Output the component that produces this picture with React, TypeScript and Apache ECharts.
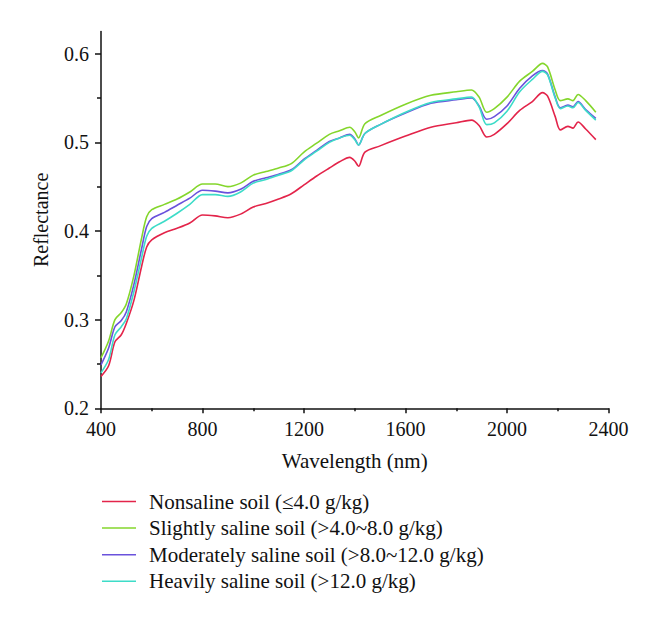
import React, { useEffect, useRef } from "react";
import * as echarts from "echarts";

const wavelengths = [400, 430, 455, 480, 500, 530, 560, 580, 600, 650, 700, 750, 800, 850, 900, 950, 1000, 1050, 1100, 1150, 1200, 1250, 1300, 1340, 1380, 1400, 1415, 1440, 1500, 1600, 1700, 1800, 1860, 1890, 1920, 1950, 2000, 2050, 2100, 2140, 2160, 2190, 2210, 2240, 2260, 2280, 2310, 2350];

const nonsaline = [0.236, 0.248, 0.275, 0.283, 0.296, 0.322, 0.36, 0.382, 0.39, 0.398, 0.403, 0.409, 0.418, 0.417, 0.415, 0.419, 0.427, 0.431, 0.436, 0.442, 0.452, 0.462, 0.471, 0.478, 0.483, 0.479, 0.473, 0.489, 0.496, 0.507, 0.517, 0.522, 0.525, 0.519, 0.506, 0.509, 0.521, 0.536, 0.546, 0.556, 0.552, 0.529, 0.514, 0.518, 0.516, 0.523, 0.515, 0.503];

const slightly = [0.257, 0.276, 0.3, 0.308, 0.318, 0.35, 0.392, 0.416, 0.424, 0.43, 0.436, 0.444, 0.453, 0.453, 0.45, 0.454, 0.463, 0.467, 0.471, 0.476, 0.489, 0.499, 0.509, 0.513, 0.517, 0.512, 0.505, 0.521, 0.53, 0.543, 0.553, 0.557, 0.559, 0.551, 0.534, 0.538, 0.551, 0.569, 0.58, 0.589, 0.585, 0.559, 0.547, 0.549, 0.547, 0.554, 0.547, 0.534];

const moderately = [0.249, 0.268, 0.292, 0.299, 0.309, 0.34, 0.38, 0.405, 0.414, 0.421, 0.429, 0.437, 0.446, 0.445, 0.443, 0.447, 0.456, 0.46, 0.464, 0.469, 0.481, 0.491, 0.501, 0.505, 0.509, 0.504, 0.497, 0.51, 0.52, 0.533, 0.544, 0.548, 0.55, 0.541, 0.526, 0.529, 0.541, 0.561, 0.575, 0.581, 0.577, 0.551, 0.539, 0.542, 0.54, 0.546, 0.537, 0.527];

const heavily = [0.24, 0.255, 0.283, 0.292, 0.301, 0.332, 0.37, 0.394, 0.403, 0.411, 0.42, 0.43, 0.441, 0.441, 0.439, 0.444, 0.454, 0.458, 0.463, 0.468, 0.48, 0.49, 0.5, 0.505, 0.508, 0.503, 0.497, 0.51, 0.52, 0.534, 0.545, 0.549, 0.551, 0.54, 0.52, 0.522, 0.535, 0.557, 0.571, 0.58, 0.576, 0.55, 0.538, 0.541, 0.539, 0.545, 0.536, 0.525];

const seriesNames = [
  "Nonsaline soil (≤4.0 g/kg)",
  "Slightly saline soil (>4.0~8.0 g/kg)",
  "Moderately saline soil (>8.0~12.0 g/kg)",
  "Heavily saline soil (>12.0 g/kg)",
];
const seriesValues = [nonsaline, slightly, moderately, heavily];
const colors = ["#e3244a", "#84d62c", "#6a52dc", "#3ddcc8"];

const yMajorTicks = [0.2, 0.3, 0.4, 0.5, 0.6];
const yMinorTicks = [0.25, 0.35, 0.45, 0.55];

const FONT = "Liberation Serif";
const FS = 20;

export default function App() {
  const ref = useRef<HTMLDivElement>(null);
  useEffect(() => {
    if (!ref.current) return;
    const chart = echarts.init(ref.current, undefined, { renderer: "svg" });
    const axisLineStyle = { color: "#111", width: 1.5 };
    chart.setOption({
      animation: false,
      backgroundColor: "#fff",
      textStyle: { fontFamily: FONT, color: "#111" },
      grid: { left: 101, right: 51.5, top: 31.5, bottom: 212.7, containLabel: false },
      legend: {
        orient: "vertical",
        left: 102,
        top: 491,
        padding: 0,
        icon: "rect",
        itemWidth: 34,
        itemHeight: 1.5,
        itemGap: 5.6,
        textStyle: { fontFamily: FONT, fontSize: 21, color: "#111", lineHeight: 20, padding: [0, 0, 0, 8] },
        data: seriesNames,
      },
      xAxis: {
        type: "value",
        min: 400,
        max: 2400,
        interval: 400,
        name: "Wavelength (nm)",
        nameLocation: "middle",
        nameGap: 42,
        nameTextStyle: { fontFamily: FONT, fontSize: 21, color: "#111" },
        axisLine: { show: true, onZero: false, lineStyle: axisLineStyle },
        axisTick: { show: true, length: 5, lineStyle: axisLineStyle },
        minorTick: { show: true, splitNumber: 2, length: 3, lineStyle: axisLineStyle },
        splitLine: { show: false },
        axisLabel: { fontFamily: FONT, fontSize: FS, color: "#111", margin: 11, formatter: (v: number) => String(v) },
      },
      yAxis: [
        {
          type: "value",
          min: 0.2,
          max: 0.625,
          interval: 0.1,
          name: "Reflectance",
          nameLocation: "middle",
          nameGap: 50,
          nameTextStyle: { fontFamily: FONT, fontSize: FS, color: "#111" },
          axisLine: { show: true, onZero: false, lineStyle: axisLineStyle },
          axisTick: { show: true, length: 6, lineStyle: axisLineStyle, customValues: yMajorTicks },
          splitLine: { show: false },
          axisLabel: {
            fontFamily: FONT,
            fontSize: FS,
            color: "#111",
            margin: 12,
            customValues: yMajorTicks,
            formatter: (v: number) => v.toFixed(1),
          },
        },
        {
          type: "value",
          min: 0.2,
          max: 0.625,
          interval: 0.1,
          position: "left",
          axisLine: { show: false },
          axisTick: { show: true, length: 4, lineStyle: axisLineStyle, customValues: yMinorTicks },
          axisLabel: { show: false },
          splitLine: { show: false },
        },
      ],
      series: seriesNames.map((name, i) => ({
        name,
        type: "line",
        yAxisIndex: 0,
        smooth: 0.3,
        showSymbol: false,
        symbol: "none",
        lineStyle: { color: colors[i], width: 1.6 },
        itemStyle: { color: colors[i] },
        data: wavelengths.map((w, j) => [w, seriesValues[i][j]]),
      })),
    });
    return () => chart.dispose();
  }, []);
  return <div ref={ref} style={{ width: 660, height: 621, position: "absolute", left: 0, top: 0 }} />;
}
